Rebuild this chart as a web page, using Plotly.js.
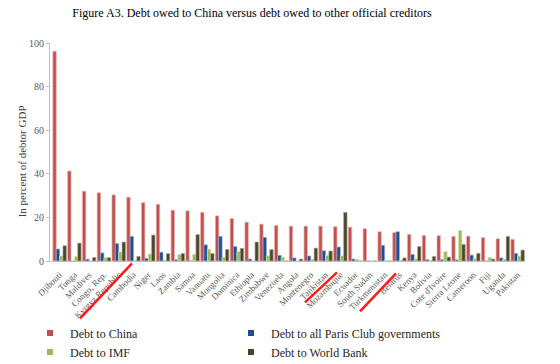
<!DOCTYPE html>
<html>
<head>
<meta charset="utf-8">
<script src="https://cdn.plot.ly/plotly-3.0.1.min.js"></script>
<style>html,body{margin:0;padding:0;background:#fff;}#chart{width:560px;height:364px;}</style>
</head>
<body>
<div id="chart"></div>
<script>
var countries = ["Djibouti","Tonga","Maldives","Congo, Rep.","Kyrgyz Republic","Cambodia","Niger","Laos","Zambia","Samoa","Vanuatu","Mongolia","Dominica","Ethiopia","Zimbabwe","Venezuela","Angola","Montenegro","Tajikistan","Mozambique","Ecuador","South Sudan","Turkmenistan","Belarus","Kenya","Bolivia","Cote d'Ivoire","Sierra Leone","Cameroon","Fiji","Uganda","Pakistan"];
var debtChina      = [96.2,41.3,32.0,31.3,30.3,29.3,26.8,26.0,23.3,23.0,22.3,20.7,19.5,17.8,16.9,16.3,16.0,16.0,16.0,15.7,15.5,14.8,13.4,13.0,12.2,11.7,11.6,11.3,11.4,10.7,10.2,9.9];
var debtParisClub  = [5.5,0,0.8,3.7,8.0,11.3,1.2,4.0,0.6,0,7.4,11.3,6.6,0.9,10.8,2.6,1.4,2.3,4.7,6.4,0.9,0,7.2,13.4,3.0,0.6,0.6,0.5,2.7,0,1.4,3.5];
var debtIMF        = [2.3,2.0,0,1.5,4.1,0.3,3.2,0.3,2.9,3.0,5.4,1.7,4.3,0,2.4,1.8,0,0.8,2.6,2.4,0.8,0,0.2,0.4,1.1,0.3,4.3,14.0,1.2,1.7,0.8,2.3];
var debtWorldBank  = [7.0,8.2,1.6,1.5,8.7,2.1,11.9,3.4,3.4,12.1,3.4,5.3,5.8,8.7,5.2,0,0.9,5.9,4.6,22.3,0,0,0,1.4,6.6,2.1,1.8,7.6,3.5,0.9,11.3,5.0];
var seriesNames = ["Debt to China","Debt to all Paris Club governments","Debt to IMF","Debt to World Bank"];
var yTitle = "In percent of debtor GDP";

var fills = ["#C0504D","#1F4E8F","#9BBB59","#4A4528"];
var edges = ["#E8AFAD","#8FA8D2","#D2E2B0","#A8A48F"];
var seriesData = [debtChina, debtParisClub, debtIMF, debtWorldBank];
var legendOf = ["legend","legend2","legend","legend2"];

var serif = "Liberation Serif, Times New Roman, serif";
var traces = [];
for (var i = 0; i < 4; i++) {
  traces.push({
    type: "bar", x: countries, y: seriesData[i], name: seriesNames[i],
    marker: {color: fills[i], line: {color: edges[i], width: 0.7}},
    showlegend: false, hoverinfo: "x+y+name"
  });
}
for (var j = 0; j < 4; j++) {
  traces.push({
    type: "scatter", mode: "markers", x: [null], y: [null], name: seriesNames[j],
    legend: legendOf[j],
    marker: {symbol: "square", size: 6, color: fills[j]}, showlegend: true
  });
}

function px(xp){ return (xp - 50) / 475; }
function py(yp){ return (260.7 - yp) / 218; }
function redLine(x0,y0,x1,y1){
  return {type:"line", xref:"paper", yref:"paper", x0:px(x0), y0:py(y0), x1:px(x1), y1:py(y1),
          line:{color:"#FF1A1A", width:2.5}};
}

var legendBase = {orientation: "v", xref: "container", yref: "container", y: 0.125, xanchor: "left", yanchor: "top",
                  font: {family: serif, size: 12, color: "#262626"}, bgcolor: "rgba(0,0,0,0)", borderwidth: 0, tracegroupgap: 0};
var legend1 = Object.assign({}, legendBase, {x: 30 / 560});
var legend2 = Object.assign({}, legendBase, {x: 231 / 560});

var layout = {
  width: 560, height: 364,
  margin: {l: 50, r: 35, t: 43, b: 103, autoexpand: false},
  paper_bgcolor: "#ffffff", plot_bgcolor: "#ffffff",
  font: {family: serif, color: "#404040"},
  title: {text: "Figure A3. Debt owed to China versus debt owed to other official creditors",
          font: {family: serif, size: 12, color: "#000000"},
          xref: "container", yref: "container", x: 0.45, xanchor: "center", y: 0.964, yanchor: "middle"},
  barmode: "group", bargap: 0.09, bargroupgap: 0,
  xaxis: {type: "category", range: [-0.65, 31.5], tickangle: -45, ticklabelstandoff: 4, automargin: false,
          tickfont: {family: serif, size: 9, color: "#595959"},
          showline: true, linecolor: "#BFBFBF", linewidth: 1, ticks: "", showgrid: false, zeroline: false, fixedrange: true},
  yaxis: {range: [0, 100], dtick: 20, showline: true, linecolor: "#BFBFBF", linewidth: 1, automargin: false,
          ticks: "outside", ticklen: 3, tickcolor: "#BFBFBF", showgrid: false, zeroline: false,
          tickfont: {family: serif, size: 10, color: "#595959"}},
  legend: legend1,
  legend2: legend2,
  annotations: [
    {text: yTitle, xref: "paper", yref: "paper", x: px(22), y: py(161), xanchor: "center", yanchor: "middle",
     textangle: -90, showarrow: false, font: {family: serif, size: 11, color: "#404040"}}
  ],
  shapes: [
    redLine(80, 318, 132, 263),
    redLine(305, 302, 337, 272),
    redLine(360, 311, 396, 273)
  ]
};

Plotly.newPlot("chart", traces, layout, {displayModeBar: false, staticPlot: true});
</script>
</body>
</html>
